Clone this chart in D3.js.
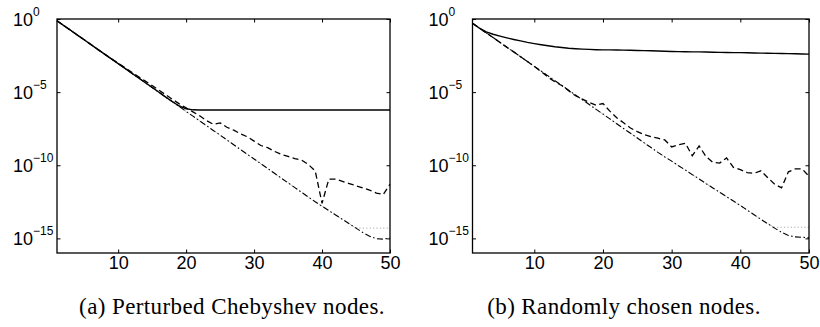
<!DOCTYPE html>
<html>
<meta charset="utf-8">
<script src="https://d3js.org/d3.v7.min.js"></script>
<title>Convergence for perturbed and random nodes</title>
<style>
  body { margin: 0; background: #fff; }
  .tick line { stroke: #000; stroke-width: 1; }
  .tick text { font-family: "Liberation Sans", Arial, sans-serif; font-size: 18px; fill: #000; }
  .caption { font-family: "Liberation Serif", "Times New Roman", serif; font-size: 23px; letter-spacing: 0.4px; fill: #000; }
</style>
<body>
<div id="chart"></div>
<script>
// x is the index n = 1..50, y values are stored as log10 of the error
var nValues = d3.range(1, 51);
var xTicks = [10, 20, 30, 40, 50];
var yTicks = [0, -5, -10, -15];   // exponents

// (a) perturbed Chebyshev nodes
var chebSolid = [-0.12,-0.45,-0.77,-1.10,-1.42,-1.75,-2.08,-2.40,-2.73,-3.05,
  -3.38,-3.71,-4.03,-4.36,-4.68,-5.01,-5.34,-5.66,-5.95,-6.14,
  -6.21,-6.22,-6.22,-6.22,-6.22,-6.22,-6.22,-6.22,-6.22,-6.22,
  -6.22,-6.22,-6.22,-6.22,-6.22,-6.22,-6.22,-6.22,-6.22,-6.22,
  -6.22,-6.22,-6.22,-6.22,-6.22,-6.22,-6.22,-6.22,-6.22,-6.22];
var chebDashed = [-0.12,-0.45,-0.77,-1.10,-1.42,-1.75,-2.08,-2.40,-2.72,-3.02,
  -3.33,-3.64,-3.95,-4.25,-4.55,-4.87,-5.18,-5.50,-5.80,-6.08,
  -6.35,-6.62,-6.95,-7.20,-7.10,-7.40,-7.60,-7.85,-8.05,-8.35,
  -8.65,-8.80,-9.05,-9.25,-9.40,-9.55,-9.65,-9.95,-10.40,-12.60,
  -10.95,-10.95,-11.10,-11.25,-11.40,-11.55,-11.70,-11.90,-12.00,-11.30];
var chebDashDot = [-0.12,-0.45,-0.77,-1.10,-1.42,-1.75,-2.08,-2.40,-2.73,-3.05,
  -3.38,-3.71,-4.03,-4.36,-4.68,-5.01,-5.34,-5.66,-5.99,-6.32,
  -6.64,-6.97,-7.29,-7.62,-7.94,-8.27,-8.60,-8.92,-9.25,-9.57,
  -9.90,-10.22,-10.55,-10.88,-11.20,-11.53,-11.85,-12.18,-12.50,-12.80,
  -13.10,-13.40,-13.70,-14.00,-14.30,-14.60,-14.85,-15.02,-15.05,-14.98];
var chebDotted = [-0.12,-0.45,-0.77,-1.10,-1.42,-1.75,-2.08,-2.40,-2.73,-3.05,
  -3.38,-3.71,-4.03,-4.36,-4.68,-5.01,-5.34,-5.66,-5.99,-6.32,
  -6.64,-6.97,-7.29,-7.62,-7.94,-8.27,-8.60,-8.92,-9.25,-9.57,
  -9.90,-10.22,-10.55,-10.88,-11.20,-11.53,-11.85,-12.18,-12.50,-12.80,
  -13.10,-13.40,-13.70,-14.00,-14.28,-14.30,-14.30,-14.30,-14.30,-14.30];

// (b) randomly chosen nodes
var randSolid = [-0.29,-0.62,-0.88,-1.04,-1.17,-1.29,-1.40,-1.50,-1.60,-1.68,
  -1.76,-1.83,-1.90,-1.95,-2.00,-2.03,-2.06,-2.08,-2.10,-2.11,
  -2.11,-2.12,-2.13,-2.14,-2.15,-2.16,-2.17,-2.19,-2.21,-2.22,
  -2.23,-2.24,-2.25,-2.25,-2.26,-2.27,-2.28,-2.29,-2.30,-2.30,
  -2.31,-2.32,-2.33,-2.34,-2.35,-2.36,-2.37,-2.38,-2.39,-2.40];
var randDashed = [-0.29,-0.62,-0.95,-1.27,-1.60,-1.93,-2.25,-2.58,-2.91,-3.24,
  -3.60,-3.98,-4.30,-4.55,-4.90,-5.25,-5.48,-5.70,-5.90,-5.78,
  -6.30,-6.75,-7.10,-7.45,-7.70,-7.90,-8.05,-8.15,-8.27,-8.75,
  -8.60,-8.50,-9.35,-8.68,-9.40,-9.80,-9.85,-9.50,-10.15,-10.30,
  -10.50,-10.55,-10.38,-10.85,-11.30,-11.55,-10.45,-10.25,-10.25,-10.75];
var randDashDot = [-0.29,-0.62,-0.95,-1.27,-1.60,-1.93,-2.25,-2.58,-2.91,-3.24,
  -3.56,-3.89,-4.22,-4.54,-4.87,-5.20,-5.52,-5.85,-6.18,-6.50,
  -6.83,-7.16,-7.49,-7.81,-8.14,-8.47,-8.79,-9.12,-9.43,-9.72,
  -10.03,-10.33,-10.64,-10.94,-11.25,-11.55,-11.85,-12.15,-12.45,-12.75,
  -13.07,-13.38,-13.70,-14.00,-14.30,-14.58,-14.80,-14.90,-14.93,-14.95];
var randDotted = [-0.29,-0.62,-0.95,-1.27,-1.60,-1.93,-2.25,-2.58,-2.91,-3.24,
  -3.56,-3.89,-4.22,-4.54,-4.87,-5.20,-5.52,-5.85,-6.18,-6.50,
  -6.83,-7.16,-7.49,-7.81,-8.14,-8.47,-8.79,-9.12,-9.43,-9.72,
  -10.03,-10.33,-10.64,-10.94,-11.25,-11.55,-11.85,-12.15,-12.45,-12.75,
  -13.07,-13.38,-13.70,-14.00,-14.24,-14.24,-14.24,-14.24,-14.24,-14.24];

var captions = ["(a) Perturbed Chebyshev nodes.", "(b) Randomly chosen nodes."];

var svg = d3.select("#chart").append("svg")
    .attr("width", 820)
    .attr("height", 327);

// one panel: frame, ticks, labels, four curves
function drawPanel(box, series, caption) {
  var x = d3.scaleLinear().domain([1, 50]).range([box.left, box.right]);
  var y = d3.scaleLog().domain([1e-16, 1]).range([box.bottom, box.top]);
  var g = svg.append("g");

  var line = d3.line()
      .x(function(d, i) { return x(nValues[i]); })
      .y(function(d) { return y(Math.pow(10, d)); });

  var styles = [
    { data: series.dotted,  dash: "1.2,2.2",         color: "#aaa", width: 1 },
    { data: series.dashDot, dash: "6,2.5,1.5,2.5",   color: "#000", width: 1.1 },
    { data: series.dashed,  dash: "6,3.5",           color: "#000", width: 1.3 },
    { data: series.solid,   dash: null,              color: "#000", width: 1.4 }
  ];
  styles.forEach(function(s) {
    g.append("path")
        .datum(s.data)
        .attr("fill", "none")
        .attr("stroke", s.color)
        .attr("stroke-width", s.width)
        .attr("stroke-dasharray", s.dash)
        .attr("d", line);
  });

  // inward ticks on all four sides
  g.append("g")
      .attr("transform", "translate(0," + box.bottom + ")")
      .call(d3.axisBottom(x).tickValues(xTicks).tickSize(-3.5).tickSizeOuter(0).tickPadding(3))
      .call(function(a) { a.select(".domain").remove(); });
  g.append("g")
      .attr("transform", "translate(0," + box.top + ")")
      .call(d3.axisTop(x).tickValues(xTicks).tickSize(-3.5).tickSizeOuter(0).tickFormat(""))
      .call(function(a) { a.select(".domain").remove(); });
  var yTickVals = yTicks.map(function(e) { return Math.pow(10, e); });
  g.append("g")
      .attr("transform", "translate(" + box.left + ",0)")
      .call(d3.axisLeft(y).tickValues(yTickVals).tickSize(-3.5).tickSizeOuter(0).tickFormat(""))
      .call(function(a) { a.select(".domain").remove(); });
  g.append("g")
      .attr("transform", "translate(" + box.right + ",0)")
      .call(d3.axisRight(y).tickValues(yTickVals).tickSize(-3.5).tickSizeOuter(0).tickFormat(""))
      .call(function(a) { a.select(".domain").remove(); });

  // y labels as 10 with a superscript exponent
  yTicks.forEach(function(e) {
    var t = g.append("text")
        .attr("x", box.left - 44)
        .attr("y", y(Math.pow(10, e)) + 6.5)
        .style("font-family", "Liberation Sans, Arial, sans-serif")
        .style("font-size", "18px");
    t.append("tspan").text("10");
    t.append("tspan")
        .attr("dy", -10)
        .style("font-size", "12px")
        .text(e === 0 ? "0" : "\u2212" + Math.abs(e));
  });

  g.append("rect")
      .attr("x", box.left)
      .attr("y", box.top)
      .attr("width", box.right - box.left)
      .attr("height", box.bottom - box.top)
      .attr("fill", "none")
      .attr("stroke", "#000")
      .attr("stroke-width", 1.3);

  svg.append("text")
      .attr("class", "caption")
      .attr("x", box.captionX)
      .attr("y", 314)
      .attr("text-anchor", "middle")
      .text(caption);
}

drawPanel({ left: 57, right: 390, top: 19, bottom: 253, captionX: 232 },
  { solid: chebSolid, dashed: chebDashed, dashDot: chebDashDot, dotted: chebDotted }, captions[0]);
drawPanel({ left: 472.5, right: 809, top: 19, bottom: 253, captionX: 624 },
  { solid: randSolid, dashed: randDashed, dashDot: randDashDot, dotted: randDotted }, captions[1]);
</script>
</body>
</html>
